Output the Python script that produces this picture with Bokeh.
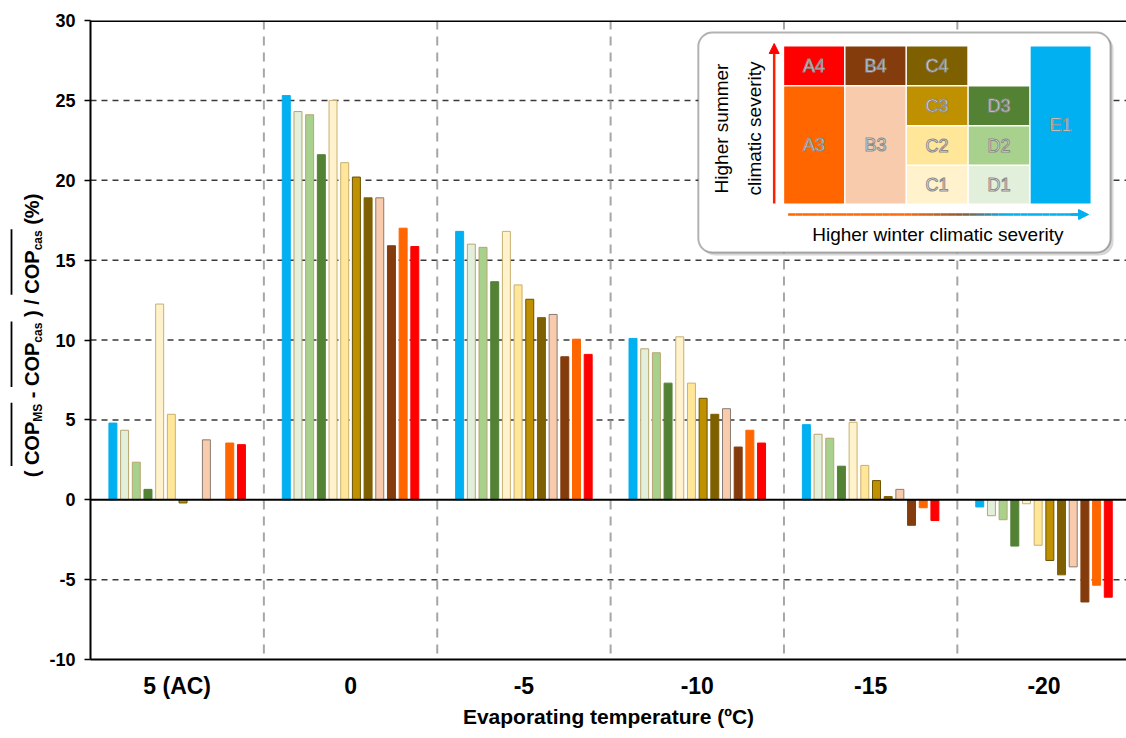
import math
from bokeh.plotting import figure
from bokeh.layouts import row
from bokeh.models import Range1d, FixedTicker, Span, BoxAnnotation, Label, Arrow, NormalHead
from bokeh.core.properties import value
from bokeh.embed import file_html
from bokeh.resources import INLINE

NaN = float("nan")

# ---------------- data ----------------
categories = ["5 (AC)", "0", "-5", "-10", "-15", "-20"]
series = ["E1", "D1", "D2", "D3", "C1", "C2", "C3", "C4", "B3", "B4", "A3", "A4"]

E1 = [4.8, 25.3, 16.8, 10.1, 4.7, -0.45]
D1 = [4.35, 24.3, 16.0, 9.45, 4.1, -1.0]
D2 = [2.35, 24.1, 15.8, 9.2, 3.85, -1.25]
D3 = [0.65, 21.6, 13.65, 7.3, 2.1, -2.9]
C1 = [12.25, 25.0, 16.8, 10.2, 4.85, -0.25]
C2 = [5.35, 21.1, 13.45, 7.3, 2.15, -2.85]
C3 = [-0.2, 20.2, 12.55, 6.35, 1.2, -3.8]
C4 = [NaN, 18.9, 11.4, 5.35, 0.2, -4.7]
B3 = [3.75, 18.9, 11.6, 5.7, 0.65, -4.2]
B4 = [NaN, 15.9, 8.95, 3.3, -1.6, -6.4]
A3 = [3.55, 17.0, 10.05, 4.35, -0.5, -5.35]
A4 = [3.45, 15.85, 9.1, 3.55, -1.3, -6.1]

values = {"E1": E1, "D1": D1, "D2": D2, "D3": D3, "C1": C1, "C2": C2,
          "C3": C3, "C4": C4, "B3": B3, "B4": B4, "A3": A3, "A4": A4}

y_ticks = [-10, -5, 0, 5, 10, 15, 20, 25, 30]
y_tick_labels = ["-10", "-5", "0", "5", "10", "15", "20", "25", "30"]

fill = {"E1": "#00B0F0", "D1": "#E2EFDA", "D2": "#A9D18E", "D3": "#548235",
        "C1": "#FFF2CC", "C2": "#FFE699", "C3": "#BF9000", "C4": "#7F6000",
        "B3": "#F8CBAD", "B4": "#843C0C", "A3": "#FF6600", "A4": "#FF0000"}
edge = {"E1": "#00B0F0", "D1": "#B8A56E", "D2": "#B8A56E", "D3": "#548235",
        "C1": "#C8B070", "C2": "#C8B070", "C3": "#6B5200", "C4": "#7F6000",
        "B3": "#8A7C74", "B4": "#843C0C", "A3": "#FF6600", "A4": "#FF0000"}

BOLD = "Liberation Sans, Arial, sans-serif"
REG = "Liberation Sans, Arial, sans-serif"

# ---------------- layout sizes ----------------
W, H = 1126, 738
LW = 46                  # width of the strip holding the y-axis title
FL, FT, FB = 88, 20, 79  # frame left / top / bottom (canvas px)
FH = H - FT - FB

GX = 173.7
GY = FH / 40.0
def dx(px):
    return (px - FL) / GX
def dy(py):
    return 30 - (py - FT) / GY

# ---------------- y-axis title strip ----------------
lab = figure(frame_width=LW, frame_height=FH, x_range=Range1d(0, LW), y_range=Range1d(-10, 30),
             output_backend="svg", toolbar_location=None,
             x_axis_location=None, y_axis_location=None,
             min_border_left=0, min_border_right=0, min_border_top=FT, min_border_bottom=FB)
lab.outline_line_color = None
lab.xgrid.grid_line_color = None
lab.ygrid.grid_line_color = None

CW = {"(": 333, ")": 333, "C": 722, "O": 778, "P": 667, "M": 833, "S": 667,
      "c": 556, "a": 556, "s": 556, "-": 333, "/": 278, "%": 889, " ": 278}
def tw(t, size):
    return sum(CW.get(ch, 556) for ch in t) * size / 1000.0

MAIN, SUB = 20, 12
GAP = tw(" ", MAIN)
pieces = [("(", MAIN, 0), ("gap",), ("COP", MAIN, 1), ("MS", SUB, 2), ("gap",), ("-", MAIN, 0), ("gap",),
          ("COP", MAIN, 1), ("cas", SUB, 2), ("gap",), (")", MAIN, 0), ("gap",), ("/", MAIN, 0), ("gap",),
          ("COP", MAIN, 1), ("cas", SUB, 2), ("gap",), ("(%)", MAIN, 0)]
total = sum(GAP if pc[0] == "gap" else tw(pc[0], pc[1]) for pc in pieces)
pos = 335 + total / 2.0
ov_start = None
ov = []
for pc in pieces:
    if pc[0] == "gap":
        pos -= GAP
        continue
    t, size, kind = pc
    w = tw(t, size)
    bx = 31 if kind != 2 else 37
    lab.add_layout(Label(x=bx, y=dy(pos), text=t, angle=math.pi / 2,
                         text_font=BOLD, text_font_style="bold",
                         text_font_size=f"{size}px", text_color="black",
                         text_align="left", text_baseline="alphabetic"))
    if kind == 1:
        ov_start = pos
    if kind == 2:
        ov.append((ov_start + 1, pos - w - 1))
    pos -= w
lab.segment(x0=[11] * len(ov), y0=[dy(a) for a, b in ov], x1=[11] * len(ov), y1=[dy(b) for a, b in ov],
            line_color="black", line_width=1.8)

# ---------------- main figure ----------------
MW = W - LW
ML = FL - LW
p = figure(width=MW, height=H, x_range=Range1d(0, (MW - ML) / GX), y_range=Range1d(-10, 30),
           output_backend="svg", toolbar_location=None,
           min_border_left=ML, min_border_right=0, min_border_top=FT, min_border_bottom=FB)
p.outline_line_color = None
p.xgrid.grid_line_color = None
p.ygrid.grid_line_color = None
p.background_fill_color = "white"

# grid
for t in y_ticks:
    if t in (-10, 0, 30):
        continue
    p.add_layout(Span(location=t, dimension="width", line_color="#3A3A3A",
                      line_width=1.5, line_dash="6 5", level="image"))
for g in range(1, len(categories)):
    p.add_layout(Span(location=g, dimension="height", line_color="#A6A6A6",
                      line_width=2, line_dash="9 7", level="image"))

# bars
step = 0.0674
bw = 0.046
for i, s in enumerate(series):
    xs = [g + 0.5 + (i - 5.5) * step for g in range(len(categories))]
    p.vbar(x=xs, top=values[s], bottom=0, width=bw, fill_color=fill[s],
           line_color=edge[s], line_width=1)

p.add_layout(Span(location=0, dimension="width", line_color="black", line_width=2))
p.add_layout(Span(location=30, dimension="width", line_color="black", line_width=3))

# axes
ya = p.yaxis[0]
ya.ticker = FixedTicker(ticks=y_ticks)
ya.major_label_overrides = {t: l for t, l in zip(y_ticks, y_tick_labels)}
ya.axis_line_color = "black"
ya.axis_line_width = 2
ya.major_tick_out = 6
ya.major_tick_in = 0
ya.major_tick_line_width = 1.5
ya.minor_tick_line_color = None
ya.major_label_standoff = 9
ya.major_label_text_font = BOLD
ya.major_label_text_font_style = "bold"
ya.major_label_text_font_size = "18px"
ya.major_label_text_color = "black"

xa = p.xaxis[0]
xa.ticker = FixedTicker(ticks=[g + 0.5 for g in range(len(categories))])
xa.major_label_overrides = {g + 0.5: c for g, c in enumerate(categories)}
xa.axis_line_color = "black"
xa.axis_line_width = 2
xa.major_tick_line_color = None
xa.minor_tick_line_color = None
xa.major_label_standoff = 7
xa.major_label_text_font = BOLD
xa.major_label_text_font_style = "bold"
xa.major_label_text_font_size = "23px"
xa.major_label_text_color = "black"
xa.axis_label = "Evaporating temperature (ºC)"
xa.axis_label_text_font = BOLD
xa.axis_label_text_font_style = "bold"
xa.axis_label_text_font_size = "21px"
xa.axis_label_text_color = "black"
xa.axis_label_standoff = 3

# ---------------- inset legend ----------------
p.add_layout(BoxAnnotation(left=dx(700), right=dx(1113), top=dy(35), bottom=dy(255),
                           fill_color="#BDBDBD", fill_alpha=0.6, line_color=None,
                           border_radius=14, level="underlay"))
p.add_layout(BoxAnnotation(left=dx(697), right=dx(1110), top=dy(32), bottom=dy(252),
                           fill_color="white", fill_alpha=1, line_color="black", line_width=2,
                           border_radius=14, level="underlay"))

colA, colB, colC, colD, colE = (783, 843), (844.5, 904.5), (906, 966.5), (968, 1028.5), (1030, 1090)
row4, row3, row2, row1 = (46, 84.5), (86, 124.5), (126, 164), (165.5, 203)
cells = {"A4": (colA, row4), "A3": (colA, (86, 203)), "B4": (colB, row4), "B3": (colB, (86, 203)),
         "C4": (colC, row4), "C3": (colC, row3), "C2": (colC, row2), "C1": (colC, row1),
         "D3": (colD, row3), "D2": (colD, row2), "D1": (colD, row1), "E1": (colE, (46, 203))}
names = list(cells.keys())
p.quad(left=[dx(cells[n][0][0]) for n in names], right=[dx(cells[n][0][1]) for n in names],
       top=[dy(cells[n][1][0]) for n in names], bottom=[dy(cells[n][1][1]) for n in names],
       fill_color=[fill[n] for n in names], line_color=None)
p.text(x=[dx((cells[n][0][0] + cells[n][0][1]) / 2) for n in names],
       y=[dy((cells[n][1][0] + cells[n][1][1]) / 2) for n in names],
       text=names, text_font=value("Liberation Sans"), text_font_size="18px",
       text_color="white", text_align="center", text_baseline="middle",
       text_outline_color="#8A8A8A")

# arrows
p.add_layout(Arrow(x_start=dx(773), y_start=dy(203), x_end=dx(773), y_end=dy(43),
                   line_color="#FF2000", line_width=2.5,
                   end=NormalHead(size=10, fill_color="#FF0000", line_color="#FF0000")))
def lerp(c1, c2, t):
    a = [int(c1[i:i + 2], 16) for i in (1, 3, 5)]
    b = [int(c2[i:i + 2], 16) for i in (1, 3, 5)]
    return "#%02x%02x%02x" % tuple(int(round(a[k] + (b[k] - a[k]) * t)) for k in range(3))
nseg = 40
x0, x1 = 787, 1078
stops = [(0.0, "#FF6600"), (0.4, "#FF6A10"), (0.6, "#8A5A30"), (0.75, "#00B0F0"), (1.0, "#00B0F0")]
def grad(t):
    for (t0, c0), (t1, c1) in zip(stops[:-1], stops[1:]):
        if t <= t1:
            return lerp(c0, c1, (t - t0) / (t1 - t0) if t1 > t0 else 0)
    return stops[-1][1]
segx0 = [dx(x0 + (x1 - x0) * k / nseg) for k in range(nseg)]
segx1 = [dx(x0 + (x1 - x0) * (k + 1) / nseg) for k in range(nseg)]
p.segment(x0=segx0, y0=[dy(214)] * nseg, x1=segx1, y1=[dy(214)] * nseg,
          line_color=[grad((k + 0.5) / nseg) for k in range(nseg)], line_width=2.5)
p.add_layout(Arrow(x_start=dx(1070), y_start=dy(214), x_end=dx(1088), y_end=dy(214),
                   line_color="#00B0F0", line_width=2.5,
                   end=NormalHead(size=10, fill_color="#00B0F0", line_color="#00B0F0")))

p.add_layout(Label(x=dx(720), y=dy(128), text="Higher summer", angle=math.pi / 2,
                   text_font=REG, text_font_size="19px", text_color="black",
                   text_align="center", text_baseline="middle"))
p.add_layout(Label(x=dx(753), y=dy(128), text="climatic severity", angle=math.pi / 2,
                   text_font=REG, text_font_size="19px", text_color="black",
                   text_align="center", text_baseline="middle"))
p.add_layout(Label(x=dx(937), y=dy(234), text="Higher winter climatic severity",
                   text_font=REG, text_font_size="19px", text_color="black",
                   text_align="center", text_baseline="middle"))

layout = row(lab, p)
open("out.html", "w").write(file_html(layout, INLINE))
